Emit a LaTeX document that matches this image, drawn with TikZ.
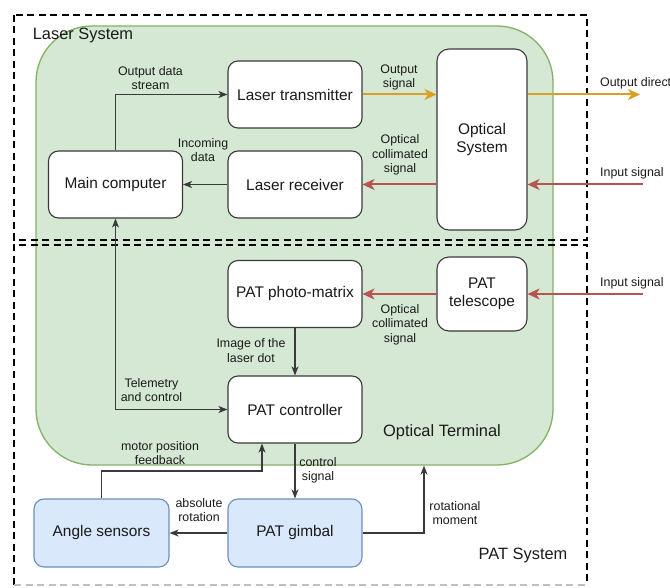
\documentclass[tikz,border=0pt]{standalone}
\usepackage{fontspec}
\setmainfont{Liberation Sans}
\usetikzlibrary{arrows.meta}
\definecolor{grfill}{HTML}{D5E8D4}
\definecolor{grline}{HTML}{82B366}
\definecolor{blfill}{HTML}{DAE8FC}
\definecolor{blline}{HTML}{6C8EBF}
\definecolor{orng}{HTML}{D9A023}
\definecolor{rd}{HTML}{B85450}
\definecolor{boxline}{HTML}{3A3A3A}
\definecolor{txt}{HTML}{1A1A1A}
\tikzset{
  box/.style={draw=boxline, fill=white, line width=1.1pt, rounded corners=10pt,
    minimum width=134pt, minimum height=67pt, align=center, text=txt,
    font=\fontsize{15.4}{18}\selectfont, inner sep=0pt},
  bluebox/.style={box, draw=blline, fill=blfill},
  greenbox/.style={draw=grline, fill=grfill, line width=1.3pt, rounded corners=56pt, inner sep=0pt},
  sysbox/.style={draw=black, line width=1.8pt, dash pattern=on 7pt off 4.5pt},
  elabel/.style={align=center, text=txt, font=\fontsize{12.4}{14.3}\selectfont, inner sep=0pt},
  title/.style={text=txt, font=\fontsize{16.4}{19}\selectfont, inner sep=0pt},
  blk/.style={draw=boxline, line width=1.2pt, -{Stealth[length=9pt,width=7pt,inset=2.5pt]}},
  blkboth/.style={draw=boxline, line width=1.2pt, {Stealth[length=9pt,width=7pt,inset=2.5pt]}-{Stealth[length=9pt,width=7pt,inset=2.5pt]}},
  org/.style={draw=orng, line width=2pt, -{Stealth[length=12pt,width=11pt,inset=3.5pt]}},
  red/.style={draw=rd, line width=2pt, -{Stealth[length=12pt,width=11pt,inset=3.5pt]}},
}
\begin{document}
\begin{tikzpicture}[x=1pt, y=-1pt]
\useasboundingbox (0,0) rectangle (670,588);
% optical terminal
\node[greenbox, minimum width=517pt, minimum height=439pt] (ot) at (294.5,245.5) {};
% system boxes
\draw[sysbox] (14,15) rectangle (587,240);
\draw[sysbox] (14,585) -- (14,245) -- (587,245) -- (587,585);
\draw[sysbox, draw=black!25] (14,585) -- (587,585);
% titles
\node[title] (lsys) at (83,35) {Laser System};
\node[title] (otl) at (442,432) {Optical Terminal};
\node[title] (psys) at (523,555) {PAT System};
% nodes
\node[box] (lt) at (295,94.5) {Laser transmitter};
\node[box] (lr) at (295,184.5) {Laser receiver};
\node[box] (mc) at (115.5,184.5) {Main computer};
\node[box, minimum width=90pt, minimum height=181pt, rounded corners=12pt] (os) at (482,139.5) {Optical\\System};
\node[box] (pm) at (295,294) {PAT photo-matrix};
\node[box, minimum width=90pt, minimum height=74pt, rounded corners=12pt] (pt) at (482,294) {PAT\\telescope};
\node[box] (pc) at (295,409.5) {PAT controller};
\node[bluebox, minimum width=135pt, minimum height=68pt] (as) at (101.5,533) {Angle sensors};
\node[bluebox, minimum height=68pt] (pg) at (295,533) {PAT gimbal};
% free ends
\coordinate (outdir) at (640,94.5);
\coordinate (inA) at (643,184.5);
\coordinate (inB) at (643,294);
\coordinate (fbk) at (262,471);
\coordinate (rm) at (424,533);
% connectors
\draw[blk] (mc.north) |- (lt.west);
\draw[blk] (lr.west) -- (mc.east);
\draw[org] (lt.east) -- (os.west |- lt.east);
\draw[org] (os.east |- lt.east) -- (outdir);
\draw[red] (inA) -- (os.east |- inA);
\draw[red] (os.west |- lr.east) -- (lr.east);
\draw[red] (inB) -- (pt.east);
\draw[red] (pt.west) -- (pm.east);
\draw[blk] (pm.south) -- (pc.north);
\draw[blkboth] (mc.south) |- (pc.west);
\draw[blk] (pc.south) -- (pg.north);
\draw[blk] (as.north) |- (fbk) -- (fbk |- pc.south);
\draw[blk] (pg.west) -- (as.east);
\draw[blk] (pg.east) -- (rm) -- (rm |- ot.south);
% labels
\node[elabel] (l1) at (150.5,78) {Output data\\stream};
\node[elabel] (l2) at (203,150) {Incoming\\data};
\node[elabel] (l3) at (399,77.5) {Output\\signal};
\node[elabel] (l4) at (400,155) {Optical\\collimated\\signal};
\node[elabel, anchor=west] (l5) at (600,83) {Output direction};
\node[elabel, anchor=west] (l6) at (600,173) {Input signal};
\node[elabel, anchor=west] (l7) at (600,283) {Input signal};
\node[elabel] (l8) at (400,324.5) {Optical\\collimated\\signal};
\node[elabel] (l9) at (251,350.5) {Image of the\\laser dot};
\node[elabel] (l10) at (151.5,390) {Telemetry\\and control};
\node[elabel] (l11) at (160,453) {motor position\\feedback};
\node[elabel] (l12) at (318,470) {control\\signal};
\node[elabel] (l13) at (199,510) {absolute\\rotation};
\node[elabel] (l14) at (455,513) {rotational\\moment};
\end{tikzpicture}
\end{document}
